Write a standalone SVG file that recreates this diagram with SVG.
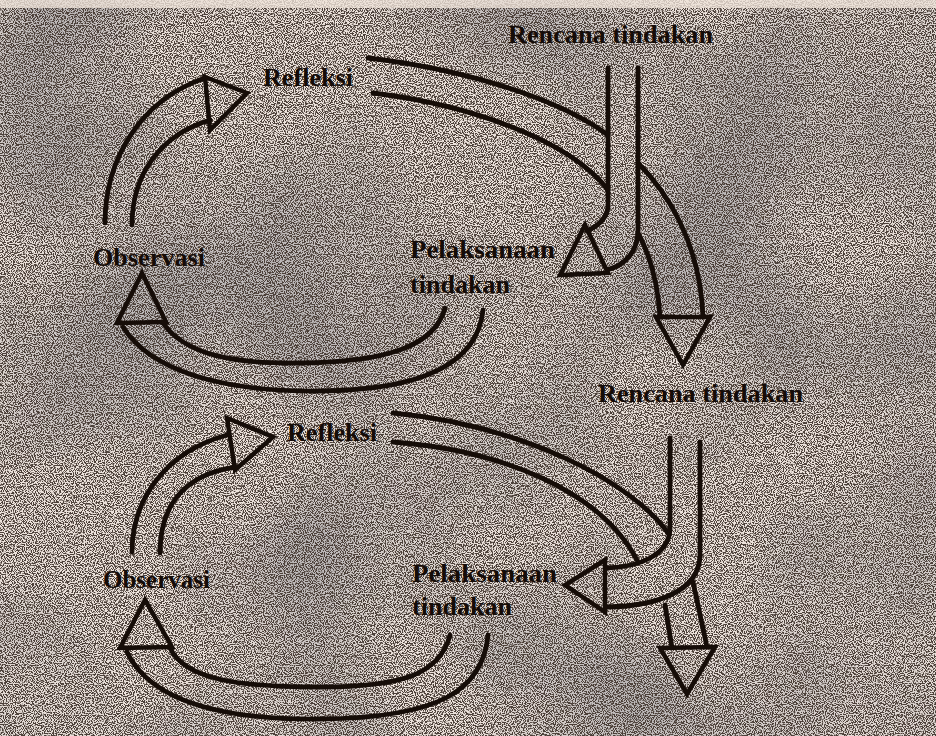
<svg xmlns="http://www.w3.org/2000/svg" width="936" height="736" viewBox="0 0 936 736">
  <defs>
    <filter id="grain" x="0" y="0" width="936" height="736" filterUnits="userSpaceOnUse">
      <feTurbulence type="fractalNoise" baseFrequency="0.9" numOctaves="1" seed="7" result="n"/>
      <feColorMatrix in="n" type="matrix" values="0 0 0 0 0.07  0 0 0 0 0.05  0 0 0 0 0.04  9 0 0 0 -4.1"/>
    </filter>
    <filter id="blotch" x="0" y="0" width="936" height="736" filterUnits="userSpaceOnUse">
      <feTurbulence type="fractalNoise" baseFrequency="0.005" numOctaves="2" seed="11" result="b"/>
      <feColorMatrix in="b" type="matrix" values="0 0 0 0 0.30  0 0 0 0 0.30  0 0 0 0 0.33  3 0 0 0 -1.2"/>
    </filter>
    <style>
      .ln { fill: none; stroke: #160d08; stroke-width: 4.8; stroke-linecap: round; stroke-linejoin: round; }
      .hd { fill: none; stroke: #160d08; stroke-width: 4.5; stroke-linejoin: miter; }
      .lb { font-family: "Liberation Serif", "DejaVu Serif", serif; font-size: 26px; font-weight: bold; fill: #150c08; }
    </style>
  </defs>

  <g id="background">
    <rect x="0" y="0" width="936" height="736" fill="#ede3dc"/>
    <rect x="0" y="0" width="936" height="736" filter="url(#blotch)" opacity="0.55"/>
    <rect x="0" y="0" width="936" height="736" filter="url(#grain)"/>
    <rect x="0" y="0" width="936" height="8" fill="#efe3da" opacity="0.8"/>
  </g>

  <g id="connectors">
    <g id="top-obs-to-ref">
      <path class="ln" d="M105,223 C105,160 140,100 205,78"/>
      <path class="ln" d="M132,225 C132,175 160,135 210,120"/>
      <path class="hd" d="M205,77 L247,93 L210,130 Z"/>
    </g>
    <g id="top-pel-to-obs">
      <path class="ln" d="M445,308 C435,345 390,362 300,363 C235,364 185,355 163,323"/>
      <path class="ln" d="M483,310 C478,360 430,390 320,391 C220,392 150,370 123,327"/>
      <path class="hd" d="M142,273 L117,323 L166,322 Z"/>
    </g>
    <g id="top-ref-to-next">
      <path class="ln" d="M368,58 C470,70 560,100 608,135"/>
      <path class="ln" d="M373,93 C470,105 570,140 608,190"/>
      <path class="ln" d="M638,163 C665,190 700,240 703,317"/>
      <path class="ln" d="M638,233 C650,255 658,285 660,317"/>
      <path class="hd" d="M656,317 L710,317 L683,365 Z"/>
    </g>
    <g id="top-ren-to-pel">
      <path class="ln" d="M608,68 L608,205 C608,218 598,226 587,231"/>
      <path class="ln" d="M638,68 L638,230 C638,252 625,265 607,270"/>
      <path class="hd" d="M585,225 L560,275 L608,273 Z"/>
    </g>

    <g id="bot-obs-to-ref">
      <path class="ln" d="M132,552 C132,500 165,452 227,435"/>
      <path class="ln" d="M160,553 C160,510 180,475 235,467"/>
      <path class="hd" d="M227,418 L273,437 L235,470 Z"/>
    </g>
    <g id="bot-pel-to-obs">
      <path class="ln" d="M450,635 C440,675 400,687 320,687 C240,687 185,680 170,648"/>
      <path class="ln" d="M488,635 C483,690 440,718 320,719 C220,720 150,700 127,652"/>
      <path class="hd" d="M145,600 L120,648 L172,647 Z"/>
    </g>
    <g id="bot-ref-to-ren">
      <path class="ln" d="M393,413 C520,425 630,480 668,533"/>
      <path class="ln" d="M393,442 C500,450 600,490 637,560"/>
    </g>
    <g id="bot-ren-to-pel">
      <path class="ln" d="M670,438 L670,530 C668,555 640,567 607,568"/>
      <path class="ln" d="M700,442 L700,557 C698,590 660,606 607,607"/>
      <path class="hd" d="M605,560 L565,585 L605,612 Z"/>
    </g>
    <g id="bot-next">
      <path class="ln" d="M665,605 L672,648"/>
      <path class="ln" d="M693,582 L707,647"/>
      <path class="hd" d="M660,648 L715,647 L687,694 Z"/>
    </g>
  </g>

  <g id="rencana-1"><text class="lb" x="508" y="43" textLength="205" lengthAdjust="spacingAndGlyphs">Rencana tindakan</text></g>
  <g id="refleksi-1"><text class="lb" x="263" y="86" textLength="90" lengthAdjust="spacingAndGlyphs">Refleksi</text></g>
  <g id="observasi-1"><text class="lb" x="93" y="266" textLength="112" lengthAdjust="spacingAndGlyphs">Observasi</text></g>
  <g id="pelaksanaan-1">
    <text class="lb" x="410" y="258" textLength="145" lengthAdjust="spacingAndGlyphs">Pelaksanaan</text>
    <text class="lb" x="410" y="293" textLength="100" lengthAdjust="spacingAndGlyphs">tindakan</text>
  </g>
  <g id="rencana-2"><text class="lb" x="598" y="402" textLength="205" lengthAdjust="spacingAndGlyphs">Rencana tindakan</text></g>
  <g id="refleksi-2"><text class="lb" x="287" y="441" textLength="90" lengthAdjust="spacingAndGlyphs">Refleksi</text></g>
  <g id="observasi-2"><text class="lb" x="103" y="588" textLength="107" lengthAdjust="spacingAndGlyphs">Observasi</text></g>
  <g id="pelaksanaan-2">
    <text class="lb" x="412" y="582" textLength="145" lengthAdjust="spacingAndGlyphs">Pelaksanaan</text>
    <text class="lb" x="412" y="615" textLength="100" lengthAdjust="spacingAndGlyphs">tindakan</text>
  </g>
</svg>
